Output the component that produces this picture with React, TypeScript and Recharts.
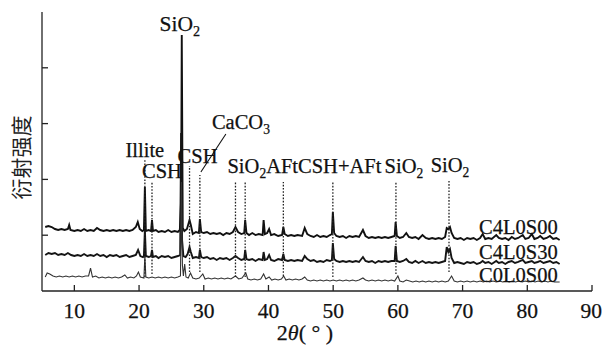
import React from "react";
import { LineChart, Line, XAxis, YAxis, ReferenceLine, ReferenceDot } from "recharts";

const SERIF = "Liberation Serif";
const CJK = "Noto Sans CJK SC";
const INK = "#111";

const xTicks = [10, 20, 30, 40, 50, 60, 70, 80, 90];
const yTicks = [1000, 2000, 3000, 4000];

// [2θ (°), intensity (counts, stacked offset included)]
const c4l0s00: [number, number][] = [
  [5.5, 1147], [6.0, 1165], [6.5, 1147], [7.0, 1111], [7.5, 1093], [8.0, 1111], [8.5, 1093], [9.0, 1111],
  [9.2, 1183], [9.4, 1093], [10.0, 1075], [10.5, 1093], [11.0, 1075], [11.5, 1111], [12.0, 1075], [12.5, 1093],
  [13.0, 1075], [13.5, 1129], [14.0, 1093], [14.5, 1075], [15.0, 1093], [15.5, 1075], [16.0, 1093], [16.5, 1075],
  [17.0, 1093], [17.5, 1075], [18.0, 1093], [18.5, 1075], [19.0, 1093], [19.5, 1147], [19.8, 1236], [20.1, 1111],
  [20.5, 1075], [20.75, 1093], [20.9, 1864], [21.05, 1075], [21.5, 1093], [21.85, 1075], [22.0, 1272], [22.15, 1075],
  [22.6, 1093], [23.0, 1057], [23.5, 1075], [24.0, 1057], [24.5, 1093], [25.0, 1057], [25.5, 1075], [26.0, 1057],
  [26.3, 1093], [26.5, 1631], [26.6, 4588], [26.75, 1129], [27.0, 1075], [27.4, 1111], [27.8, 1272], [28.0, 1183],
  [28.3, 1021], [28.8, 1057], [29.25, 1039], [29.4, 1290], [29.6, 1057], [30.0, 1039], [30.5, 1057], [31.0, 1021],
  [31.5, 1039], [32.0, 1021], [32.5, 1039], [33.0, 1003], [33.5, 1039], [34.0, 1021], [34.5, 1057], [34.9, 1147],
  [35.3, 1057], [35.8, 1021], [36.25, 1039], [36.4, 1272], [36.6, 1039], [37.0, 1003], [37.5, 1039], [38.0, 1003],
  [38.5, 1021], [39.1, 1003], [39.25, 1272], [39.45, 1021], [39.8, 1039], [40.1, 1111], [40.4, 1003], [40.9, 1021],
  [41.5, 986], [42.1, 1003], [42.3, 1147], [42.5, 1021], [43.0, 986], [43.5, 1003], [44.0, 986], [44.5, 1003],
  [45.2, 986], [45.6, 1129], [46.0, 1021], [46.5, 986], [47.0, 968], [47.5, 1003], [48.0, 968], [48.5, 986],
  [49.0, 968], [49.5, 1003], [49.8, 1021], [49.95, 1416], [50.15, 1039], [50.5, 986], [51.0, 968], [51.5, 986],
  [52.0, 950], [52.5, 986], [53.0, 968], [53.5, 986], [54.0, 968], [54.6, 1093], [55.0, 986], [55.5, 950],
  [56.0, 968], [56.5, 950], [57.0, 968], [57.5, 950], [58.0, 968], [58.5, 950], [59.0, 968], [59.5, 986],
  [59.65, 1236], [59.85, 986], [60.3, 950], [60.8, 968], [61.3, 1039], [61.7, 968], [62.2, 950], [62.7, 968],
  [63.2, 932], [63.8, 1003], [64.3, 950], [64.8, 932], [65.3, 950], [65.8, 932], [66.3, 950], [66.8, 932],
  [67.3, 968], [67.55, 1129], [67.8, 1111], [68.05, 1147], [68.3, 1039], [68.7, 950], [69.2, 932], [69.7, 950],
  [70.2, 914], [70.7, 950], [71.2, 932], [71.7, 950], [72.2, 914], [72.7, 950], [73.1, 1021], [73.5, 932],
  [74.0, 950], [74.5, 932], [75.2, 1003], [75.6, 950], [76.1, 932], [76.6, 950], [77.1, 914], [77.6, 968],
  [78.1, 932], [78.6, 950], [79.3, 1003], [79.7, 932], [80.2, 950], [80.7, 1021], [81.1, 932], [81.6, 950],
  [82.0, 986], [82.5, 932], [83.0, 950], [83.5, 986], [84.0, 932], [84.5, 950], [85.0, 914],
];

const c4l0s30: [number, number][] = [
  [5.5, 645], [6.0, 681], [6.5, 663], [7.0, 681], [7.5, 645], [8.0, 663], [8.5, 645], [9.0, 681],
  [9.5, 645], [10.0, 627], [10.5, 645], [11.0, 627], [11.5, 663], [12.0, 627], [12.5, 645], [13.0, 627],
  [13.5, 663], [14.0, 627], [14.5, 645], [15.0, 609], [15.5, 645], [16.0, 627], [16.5, 645], [17.0, 609],
  [17.5, 627], [18.0, 645], [18.5, 609], [19.0, 627], [19.5, 645], [19.85, 735], [20.2, 627], [20.6, 609],
  [20.75, 627], [20.9, 1093], [21.05, 627], [21.5, 609], [21.85, 627], [22.0, 735], [22.15, 609], [22.6, 627],
  [23.0, 591], [23.5, 627], [24.0, 609], [24.5, 627], [25.0, 591], [25.5, 609], [26.0, 627], [26.35, 645],
  [26.5, 2831], [26.65, 914], [26.85, 627], [27.2, 609], [27.5, 663], [27.8, 788], [28.0, 699], [28.3, 591],
  [28.8, 609], [29.25, 591], [29.4, 735], [29.6, 609], [30.0, 591], [30.5, 609], [31.0, 573], [31.5, 591],
  [32.0, 556], [32.5, 591], [33.0, 573], [33.5, 591], [34.0, 556], [34.5, 591], [34.9, 627], [35.3, 591],
  [35.8, 556], [36.25, 573], [36.4, 735], [36.6, 573], [37.0, 556], [37.5, 573], [38.0, 538], [38.5, 573],
  [39.1, 556], [39.25, 699], [39.45, 556], [39.8, 573], [40.1, 645], [40.4, 556], [40.9, 538], [41.5, 573],
  [42.1, 556], [42.3, 663], [42.5, 556], [43.0, 538], [43.5, 556], [44.0, 538], [44.5, 556], [45.2, 538],
  [45.6, 627], [46.0, 573], [46.5, 538], [47.0, 556], [47.5, 520], [48.0, 538], [48.5, 520], [49.0, 556],
  [49.5, 538], [49.8, 556], [49.95, 860], [50.15, 573], [50.5, 538], [51.0, 520], [51.5, 538], [52.0, 520],
  [52.5, 538], [53.0, 520], [53.5, 538], [54.0, 520], [54.6, 609], [55.0, 538], [55.5, 520], [56.0, 538],
  [56.5, 502], [57.0, 538], [57.5, 520], [58.0, 538], [58.5, 520], [59.0, 538], [59.5, 538], [59.65, 806],
  [59.85, 538], [60.3, 520], [60.8, 538], [61.3, 573], [61.7, 520], [62.2, 502], [62.7, 538], [63.2, 502],
  [63.8, 538], [64.3, 502], [64.8, 520], [65.3, 502], [65.8, 520], [66.3, 502], [66.8, 520], [67.3, 538],
  [67.55, 788], [67.8, 699], [68.05, 753], [68.3, 591], [68.7, 502], [69.2, 520], [69.7, 502], [70.2, 484],
  [70.7, 520], [71.2, 502], [71.7, 520], [72.2, 484], [72.7, 502], [73.1, 538], [73.5, 502], [74.0, 520],
  [74.5, 484], [75.2, 538], [75.6, 502], [76.1, 520], [76.6, 484], [77.1, 520], [77.6, 538], [78.1, 502],
  [78.6, 520], [79.3, 556], [79.7, 502], [80.2, 520], [80.7, 538], [81.1, 502], [81.6, 520], [82.0, 538],
  [82.5, 502], [83.0, 520], [83.5, 538], [84.0, 502], [84.5, 520], [85.0, 484],
];

const c0l0s00: [number, number][] = [
  [5.5, 251], [5.8, 323], [6.2, 305], [6.7, 269], [7.2, 251], [7.7, 269], [8.2, 251], [8.7, 269],
  [9.2, 251], [9.7, 269], [10.2, 251], [10.7, 269], [11.2, 251], [11.7, 269], [12.2, 269], [12.5, 412],
  [12.8, 251], [13.3, 269], [13.8, 233], [14.3, 251], [14.8, 233], [15.3, 251], [15.8, 233], [16.3, 251],
  [16.8, 233], [17.3, 251], [17.8, 287], [18.2, 233], [18.7, 251], [19.2, 233], [19.6, 269], [19.9, 340],
  [20.2, 251], [20.75, 233], [20.9, 627], [21.05, 251], [21.5, 233], [22.0, 251], [22.5, 233], [23.0, 251],
  [23.5, 233], [24.0, 251], [24.5, 233], [25.0, 251], [25.5, 233], [26.0, 251], [26.4, 269], [26.55, 1953],
  [26.7, 466], [26.85, 269], [27.05, 484], [27.25, 251], [27.6, 233], [27.95, 323], [28.3, 233], [28.8, 215],
  [29.3, 233], [29.85, 305], [30.2, 215], [30.7, 233], [31.2, 215], [31.7, 233], [32.2, 215], [32.7, 233],
  [33.2, 215], [33.7, 233], [34.2, 215], [34.9, 269], [35.4, 215], [35.9, 233], [36.5, 323], [36.8, 215],
  [37.3, 197], [37.8, 215], [38.3, 197], [38.8, 215], [39.25, 305], [39.6, 215], [40.1, 251], [40.5, 197],
  [41.0, 215], [41.5, 197], [42.0, 215], [42.35, 269], [42.7, 197], [43.2, 215], [43.7, 197], [44.2, 215],
  [44.7, 197], [45.2, 215], [45.6, 251], [46.0, 197], [46.5, 179], [47.0, 197], [47.5, 179], [48.0, 197],
  [48.5, 179], [49.0, 197], [49.5, 179], [50.0, 197], [50.5, 179], [51.0, 197], [51.5, 179], [52.0, 197],
  [52.5, 179], [53.0, 197], [53.5, 179], [54.0, 197], [54.6, 233], [55.0, 197], [55.5, 179], [56.0, 197],
  [56.5, 179], [57.0, 197], [57.5, 179], [58.0, 197], [58.5, 179], [59.0, 197], [59.5, 179], [60.0, 269],
  [60.3, 179], [60.8, 161], [61.3, 197], [61.8, 179], [62.3, 161], [62.8, 179], [63.3, 161], [63.8, 179],
  [64.3, 161], [64.8, 179], [65.3, 161], [65.8, 179], [66.3, 161], [66.8, 179], [67.3, 161], [67.8, 179],
  [68.3, 269], [68.7, 179], [69.2, 161], [69.7, 179], [70.2, 161], [70.7, 179], [71.2, 161], [71.7, 179],
  [72.2, 161], [72.7, 179], [73.2, 161], [73.7, 179], [74.2, 161], [74.7, 179], [75.2, 161], [75.7, 179],
  [76.2, 161], [76.7, 179], [77.2, 161], [77.7, 179], [78.2, 161], [78.7, 179], [79.2, 161], [79.7, 179],
  [80.2, 161], [80.7, 179], [81.2, 161], [81.7, 179], [82.2, 161], [82.7, 179], [83.2, 161], [83.7, 179],
  [84.2, 161], [85.0, 161],
];

const seriesNames = ["C4L0S00", "C4L0S30", "C0L0S00"];

// dotted phase markers (2θ, top and bottom of the dotted line in counts)
const markerAngles = [20.9, 22.0, 27.8, 29.4, 34.9, 36.4, 42.3, 49.95, 59.7, 67.9];
const markerTops = [2348, 1953, 2240, 2079, 1953, 1953, 1953, 1953, 1953, 1971];
const markerBottoms = [251, 305, 340, 340, 251, 251, 269, 251, 305, 340];
const markerLabels = ["Illite", "CSH", "CSH", "CaCO3", "SiO2AFtCSH+AFt", "", "", "", "SiO2", "SiO2"];
const mainPeakLabel = "SiO2";

// label placement relative to the top of each dotted line
const labelLayout: { dx: number; dy: number; anchor: "start" | "middle" | "end" }[] = [
  { dx: 0, dy: -3, anchor: "middle" },
  { dx: 10, dy: -4, anchor: "middle" },
  { dx: 8, dy: -3, anchor: "middle" },
  { dx: 12, dy: -46, anchor: "start" },
  { dx: -8, dy: -9, anchor: "start" },
  { dx: 0, dy: 0, anchor: "middle" },
  { dx: 0, dy: 0, anchor: "middle" },
  { dx: 0, dy: 0, anchor: "middle" },
  { dx: 8, dy: -9, anchor: "middle" },
  { dx: 1, dy: -9, anchor: "middle" },
];
const seriesLabelDy = [-6, -5, 0];

const toRows = (pts: [number, number][]) => pts.map(([angle, counts]) => ({ angle, counts }));

function chem(text: string, size: number) {
  const parts = text.split(/(\d+)/).filter(Boolean);
  let wasSub = false;
  return parts.map((p, i) => {
    const isSub = /^\d+$/.test(p);
    const dy = isSub ? size * 0.22 : wasSub ? -size * 0.22 : 0;
    wasSub = isSub;
    return (
      <tspan key={i} dy={dy} fontSize={isSub ? size * 0.66 : size}>
        {p}
      </tspan>
    );
  });
}

const textInk = { fill: INK, stroke: INK, strokeWidth: 0.25 };

const markerLabel = (i: number) => (props: any) => {
  const vb = props.viewBox || {};
  const text = markerLabels[i];
  if (!text) return null;
  const lay = labelLayout[i];
  const x = vb.x + lay.dx;
  const y = vb.y + lay.dy;
  return (
    <g>
      <text x={x} y={y} textAnchor={lay.anchor} fontFamily={SERIF} fontSize={20.5} {...textInk}>
        {chem(text, 20.5)}
      </text>
      {text === "CaCO3" && (
        <line x1={vb.x + 1} y1={vb.y - 3} x2={vb.x + 26} y2={vb.y - 41} stroke={INK} strokeWidth={1.1} />
      )}
    </g>
  );
};

const peakLabel = (props: any) => {
  const vb = props.viewBox || {};
  return (
    <text x={vb.x - 2} y={vb.y - 4} textAnchor="middle" fontFamily={SERIF} fontSize={21.5} {...textInk}>
      {chem(mainPeakLabel, 21.5)}
    </text>
  );
};

const seriesLabel = (i: number) => (props: any) => {
  const vb = props.viewBox || {};
  return (
    <text x={vb.x - 2} y={vb.y + seriesLabelDy[i]} textAnchor="end" fontFamily={SERIF} fontSize={20.5} {...textInk}>
      {seriesNames[i]}
    </text>
  );
};

const xLabel = (props: any) => {
  const vb = props.viewBox || {};
  return (
    <text x={vb.x + vb.width / 2 - 12} y={vb.y + 49} textAnchor="middle" fontFamily={SERIF} fontSize={22} {...textInk}>
      2<tspan fontStyle="italic">θ</tspan>( ° )
    </text>
  );
};

const yLabel = (props: any) => {
  const vb = props.viewBox || {};
  const cx = vb.x - 22;
  const cy = vb.y + vb.height / 2 + 6;
  return (
    <text
      x={cx}
      y={cy}
      textAnchor="middle"
      dominantBaseline="central"
      transform={`rotate(-90, ${cx}, ${cy})`}
      fontFamily={CJK}
      fontSize={21}
      fill="#222"
    >
      衍射强度
    </text>
  );
};

export default function App() {
  const series = [c4l0s00, c4l0s30, c0l0s00];
  const widths = [1.9, 1.9, 1.1];
  const colors = ["#111", "#151515", "#333"];
  const mainPeak = c4l0s00.reduce((m, p) => (p[1] > m[1] ? p : m), c4l0s00[0]);
  const axisStyle = { stroke: "#222", strokeWidth: 1.3 };

  return (
    <div style={{ position: "absolute", left: 0, top: 0, width: 602, height: 345, background: "#fff" }}>
      <LineChart width={602} height={345} margin={{ top: 12, right: 10, bottom: 24, left: 42 }} style={{ fontFamily: SERIF }}>
        <XAxis
          type="number"
          dataKey="angle"
          domain={[5, 90]}
          ticks={xTicks}
          allowDataOverflow
          height={30}
          tickSize={-6}
          tickMargin={18}
          axisLine={axisStyle}
          tickLine={axisStyle}
          tick={{ fontSize: 21.5, fill: INK, stroke: INK, strokeWidth: 0.25, fontFamily: SERIF }}
          label={{ content: xLabel }}
        />
        <YAxis
          type="number"
          dataKey="counts"
          domain={[0, 5000]}
          ticks={yTicks}
          interval={0}
          width={1}
          mirror
          tickSize={6}
          tick={{ fontSize: 8, fill: "transparent" }}
          axisLine={axisStyle}
          tickLine={axisStyle}
          label={{ content: yLabel }}
        />
        {series.map((pts, i) => (
          <Line
            key={seriesNames[i]}
            data={toRows(pts)}
            dataKey="counts"
            type="linear"
            stroke={colors[i]}
            strokeWidth={widths[i]}
            dot={false}
            activeDot={false}
            isAnimationActive={false}
          />
        ))}
        {markerAngles.map((a, i) => (
          <ReferenceLine
            key={`m${i}`}
            segment={[
              { x: a, y: markerBottoms[i] },
              { x: a, y: markerTops[i] },
            ]}
            stroke="#222"
            strokeWidth={1.3}
            strokeDasharray="1.6 1.6"
            ifOverflow="visible"
            label={markerLabel(i)}
          />
        ))}
        <ReferenceDot x={mainPeak[0]} y={mainPeak[1]} r={0} fill="none" stroke="none" ifOverflow="visible" label={peakLabel} />
        {series.map((pts, i) => {
          const last = pts[pts.length - 1];
          return (
            <ReferenceDot
              key={`s${i}`}
              x={last[0]}
              y={last[1]}
              r={0}
              fill="none"
              stroke="none"
              ifOverflow="visible"
              label={seriesLabel(i)}
            />
          );
        })}
      </LineChart>
    </div>
  );
}
